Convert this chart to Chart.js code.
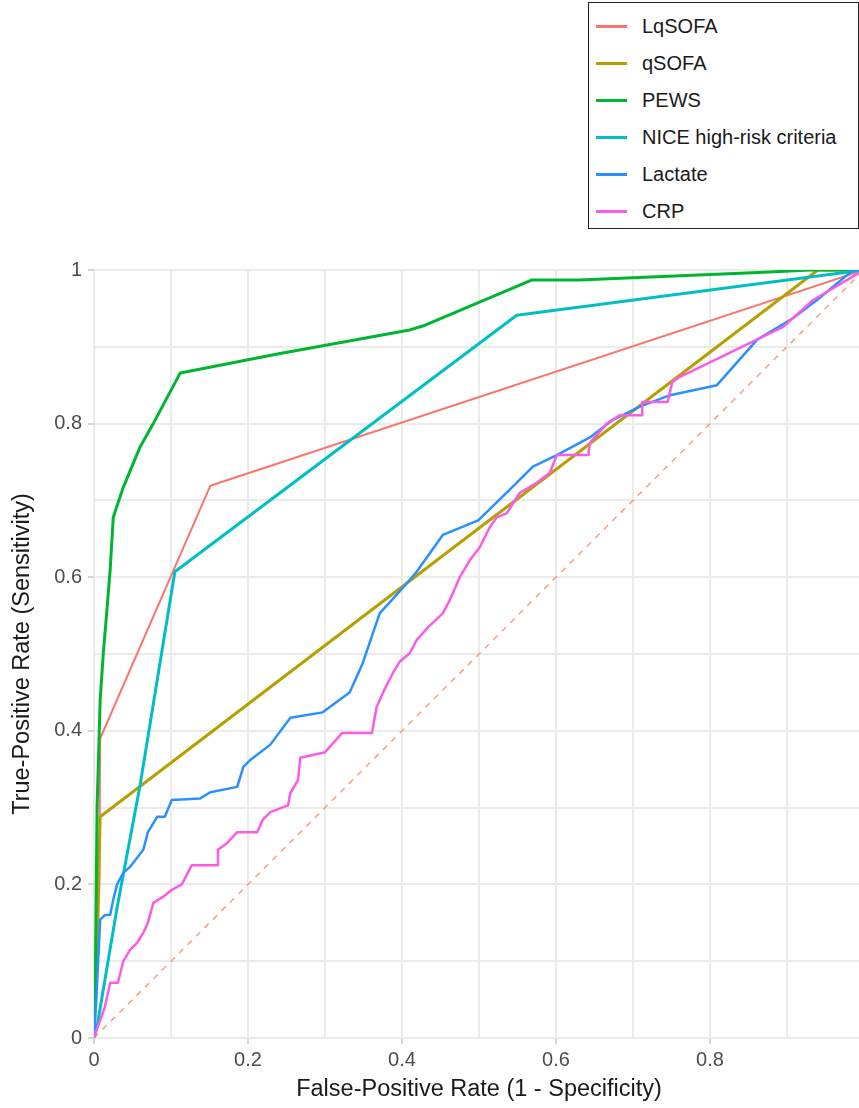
<!DOCTYPE html>
<html>
<head>
<meta charset="utf-8">
<title>ROC curves</title>
<script src="https://cdn.jsdelivr.net/npm/chart.js@4.4.1/dist/chart.umd.min.js"></script>
<style>
  html, body { margin: 0; padding: 0; background: #fff; overflow: hidden; }
  #wrap { position: relative; width: 859px; height: 1108px; overflow: hidden; }
  #roc { position: absolute; left: 0; top: 0; }
  #legend {
    position: absolute; left: 588px; top: 2px; width: 269px; height: 225px;
    border: 1px solid #222; background: #fff;
    font-family: "Liberation Sans", Arial, sans-serif; font-size: 20px; color: #1a1a1a;
  }
  #legend .row { position: absolute; left: 0; right: 0; height: 24px; line-height: 24px; }
  #legend .key { position: absolute; left: 7px; top: 11px; width: 31px; height: 3px; }
  #legend .lbl { position: absolute; left: 53px; top: 0; white-space: nowrap; }
</style>
</head>
<body>
<div id="wrap">
  <canvas id="roc" width="880" height="1108"></canvas>
  <div id="legend"></div>
</div>
<script>
// tick labels (major ticks only)
const tickLabels = ['0', '0.2', '0.4', '0.6', '0.8', '1'];

// LqSOFA
const lqsofaFpr = [0, 0.007, 0.008, 0.151, 1];
const lqsofaTpr = [0, 0.2, 0.39, 0.719, 1];

// qSOFA
const qsofaFpr = [0, 0.004, 0.008, 0.94, 1];
const qsofaTpr = [0, 0.12, 0.288, 1, 1];

// PEWS
const pewsFpr = [0, 0, 0.002, 0.004, 0.008, 0.012, 0.017, 0.021, 0.025, 0.038, 0.06, 0.077, 0.112, 0.24, 0.41, 0.427, 0.569, 0.63, 0.87, 0.93, 1];
const pewsTpr = [0, 0.02, 0.1, 0.3, 0.44, 0.5, 0.56, 0.61, 0.678, 0.717, 0.77, 0.8, 0.866, 0.891, 0.922, 0.927, 0.987, 0.987, 0.997, 1, 1];

// NICE high-risk criteria
const niceFpr = [0, 0.004, 0.03, 0.06, 0.105, 0.549, 1];
const niceTpr = [0, 0.015, 0.17, 0.33, 0.607, 0.941, 1];

// Lactate
const lactateFpr = [0, 0.003, 0.005, 0.008, 0.014, 0.021, 0.025, 0.03, 0.038, 0.047, 0.064, 0.07, 0.082, 0.092, 0.099,
  0.101, 0.138, 0.151, 0.186, 0.194, 0.203, 0.229, 0.255, 0.297, 0.332, 0.349, 0.371, 0.401, 0.419, 0.453,
  0.499, 0.536, 0.57, 0.601, 0.644, 0.674, 0.709, 0.748, 0.809, 0.861, 0.908, 0.939, 0.986, 1];
const lactateTpr = [0, 0.05, 0.092, 0.154, 0.16, 0.16, 0.18, 0.2, 0.215, 0.223, 0.245, 0.268, 0.288, 0.288, 0.305,
  0.31, 0.312, 0.32, 0.327, 0.353, 0.362, 0.382, 0.417, 0.424, 0.45, 0.488, 0.553, 0.586, 0.607, 0.655,
  0.674, 0.71, 0.744, 0.759, 0.782, 0.805, 0.822, 0.837, 0.85, 0.909, 0.9375, 0.961, 1, 1];

// CRP
const crpFpr = [0, 0.001, 0.008, 0.014, 0.021, 0.031, 0.038, 0.047, 0.056, 0.064, 0.07, 0.077, 0.09, 0.101, 0.114,
  0.127, 0.16, 0.161, 0.173, 0.186, 0.212, 0.219, 0.229, 0.252, 0.255, 0.265, 0.268, 0.3, 0.322, 0.361,
  0.367, 0.375, 0.388, 0.397, 0.41, 0.419, 0.434, 0.453, 0.462, 0.475, 0.488, 0.501, 0.514, 0.523, 0.536,
  0.553, 0.575, 0.592, 0.601, 0.642, 0.644, 0.666, 0.683, 0.712, 0.712, 0.745, 0.751, 0.761, 0.895, 0.934, 1];
const crpTpr = [0, 0.004, 0.023, 0.04, 0.072, 0.072, 0.1, 0.115, 0.124, 0.137, 0.15, 0.176, 0.184, 0.193, 0.2,
  0.225, 0.225, 0.245, 0.254, 0.268, 0.268, 0.284, 0.294, 0.303, 0.319, 0.336, 0.365, 0.372, 0.397, 0.397,
  0.431, 0.449, 0.475, 0.49, 0.501, 0.518, 0.535, 0.553, 0.57, 0.6, 0.622, 0.639, 0.665, 0.678, 0.683,
  0.71, 0.723, 0.736, 0.759, 0.759, 0.775, 0.8, 0.811, 0.811, 0.828, 0.828, 0.854, 0.861, 0.926, 0.961, 1];

// reference diagonal
const chanceFpr = [0, 1];
const chanceTpr = [0, 1];

function pts(fpr, tpr) {
  return fpr.map(function (x, i) { return { x: x, y: tpr[i] }; });
}

var fontFamily = '"Liberation Sans", Arial, sans-serif';

var lines = [
  { label: 'LqSOFA', data: pts(lqsofaFpr, lqsofaTpr), color: '#F8766D', width: 2 },
  { label: 'qSOFA', data: pts(qsofaFpr, qsofaTpr), color: '#B79F00', width: 3 },
  { label: 'PEWS', data: pts(pewsFpr, pewsTpr), color: '#00B52F', width: 3 },
  { label: 'NICE high-risk criteria', data: pts(niceFpr, niceTpr), color: '#00BFC4', width: 3 },
  { label: 'Lactate', data: pts(lactateFpr, lactateTpr), color: '#2B90FF', width: 2.5 },
  { label: 'CRP', data: pts(crpFpr, crpTpr), color: '#FA5CE6', width: 2.5 }
];

var datasets = lines.map(function (s, i) {
  return {
    label: s.label,
    data: s.data,
    borderColor: s.color,
    backgroundColor: s.color,
    borderWidth: s.width,
    showLine: true,
    pointRadius: 0,
    tension: 0,
    borderJoinStyle: 'round',
    order: lines.length - i   // later series drawn on top, like ggplot
  };
});
datasets.push({
  label: 'chance',
  data: pts(chanceFpr, chanceTpr),
  borderColor: '#F4A27C',
  borderWidth: 1.5,
  borderDash: [6, 6],
  showLine: true,
  pointRadius: 0,
  order: 10
});

function axis(title, titlePad) {
  return {
    type: 'linear',
    min: 0,
    max: 1,
    border: { display: false },
    grid: {
      color: '#EBEBEB',
      lineWidth: 2,
      tickLength: 6,
      tickWidth: 1.5,
      tickColor: function (c) { return c.index % 2 === 0 ? '#C8C8C8' : 'rgba(0,0,0,0)'; }
    },
    ticks: {
      stepSize: 0.1,
      autoSkip: false,
      maxRotation: 0,
      padding: 5,
      color: '#4D4D4D',
      font: { family: fontFamily, size: 20 },
      callback: function (v, i) { return i % 2 === 0 ? tickLabels[i / 2] : ''; }
    },
    title: {
      display: true,
      text: title,
      color: '#1a1a1a',
      font: { family: fontFamily, size: 23.5 },
      padding: titlePad
    }
  };
}

var xAxis = axis('False-Positive Rate (1 - Specificity)', { top: 0, bottom: 4 });
xAxis.ticks.padding = 4;
xAxis.afterFit = function (scale) { scale.height = 70; };

var yAxis = axis('True-Positive Rate (Sensitivity)', { top: 8, bottom: 0 });
yAxis.ticks.padding = 6;
yAxis.afterFit = function (scale) { scale.width = 94; };

new Chart(document.getElementById('roc'), {
  type: 'scatter',
  data: { datasets: datasets },
  options: {
    responsive: false,
    animation: false,
    devicePixelRatio: 1,
    layout: { padding: { top: 270, right: 16, bottom: 0, left: 0 } },
    plugins: {
      legend: { display: false },
      tooltip: { enabled: false }
    },
    scales: { x: xAxis, y: yAxis }
  }
});

// legend box, built from the series list
var legendBox = document.getElementById('legend');
lines.forEach(function (s, i) {
  var row = document.createElement('div');
  row.className = 'row';
  row.style.top = (11 + i * 37) + 'px';
  var key = document.createElement('span');
  key.className = 'key';
  key.style.background = s.color;
  var lbl = document.createElement('span');
  lbl.className = 'lbl';
  lbl.textContent = s.label;
  row.appendChild(key);
  row.appendChild(lbl);
  legendBox.appendChild(row);
});
</script>
</body>
</html>
